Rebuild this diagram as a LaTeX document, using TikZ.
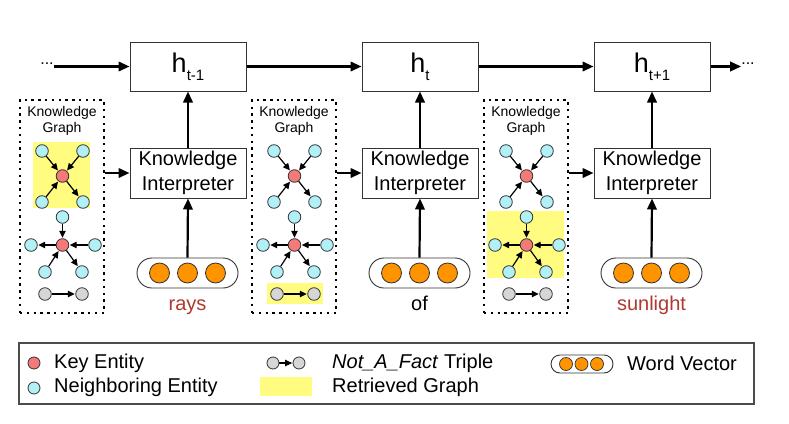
\documentclass[tikz,border=0pt]{standalone}
\usepackage{fontspec}
\setmainfont{Liberation Sans}
\usetikzlibrary{arrows.meta}
\definecolor{keyred}{HTML}{F47A7A}
\definecolor{nbrcyan}{HTML}{B2F0F8}
\definecolor{fakegray}{HTML}{D6D6D6}
\definecolor{wvorange}{HTML}{FF9300}
\definecolor{hlyellow}{HTML}{FFFC7F}
\definecolor{wordred}{HTML}{B0392F}
\definecolor{edge}{HTML}{333333}
\begin{document}
\begin{tikzpicture}[x=1pt,y=-1pt,
  ent/.style={circle,draw=edge,line width=0.8pt,minimum size=12.6pt,inner sep=0pt},
  keyent/.style={ent,fill=keyred},
  nbrent/.style={ent,fill=nbrcyan},
  fakeent/.style={ent,fill=fakegray},
  orb/.style={circle,draw=edge,line width=0.8pt,fill=wvorange,minimum size=20pt,inner sep=0pt},
  smallorb/.style={circle,draw=edge,line width=0.7pt,fill=wvorange,minimum size=13pt,inner sep=0pt},
  bigarrow/.style={line width=2.2pt,-{Triangle[length=11pt,width=9.5pt]}},
  smallarrow/.style={line width=1.2pt,shorten >=0.5pt,-{Triangle[length=7pt,width=6.5pt]}},
  hbox/.style={draw=edge,line width=1pt,fill=white,minimum width=116pt,minimum height=49pt,inner sep=0pt},
  kibox/.style={draw=edge,line width=1pt,fill=white,minimum width=116pt,minimum height=50pt,inner sep=0pt,align=center,font=\fontsize{20}{24.5}\selectfont},
  kgbox/.style={draw=black,line width=2.4pt,dash pattern=on 2.4pt off 4.4pt,minimum width=84pt,minimum height=213pt,inner sep=0pt},
  pill/.style={draw=edge,line width=0.9pt,rounded corners=15pt,minimum width=101pt,minimum height=30pt,inner sep=0pt},
  hl/.style={fill=hlyellow},
  legtext/.style={anchor=west,inner sep=0pt,font=\fontsize{20}{24}\selectfont},
]
\useasboundingbox[fill=white] (0,0) rectangle (789,423);

% retrieved-graph highlights
\fill[hl] (33,142) rectangle (90,208);
\fill[hl] (267,283) rectangle (323,304);
\fill[hl] (487,211) rectangle (564,278);

% hidden states
\node[hbox] (h1) at (188,66.5) {\fontsize{27}{30}\selectfont h\raisebox{-0.3em}{\fontsize{15}{15}\selectfont t-1}};
\node[hbox] (h2) at (420,66.5) {\fontsize{27}{30}\selectfont h\raisebox{-0.3em}{\fontsize{15}{15}\selectfont t}};
\node[hbox] (h3) at (652,66.5) {\fontsize{27}{30}\selectfont h\raisebox{-0.3em}{\fontsize{15}{15}\selectfont t+1}};
\node[inner sep=0pt,font=\fontsize{16}{16}\selectfont] (ld) at (47,64) {...};
\node[inner sep=0pt,font=\fontsize{16}{16}\selectfont] (rd) at (748,64) {...};
\draw[bigarrow] (ld.east |- h1.west) -- (h1.west);
\draw[bigarrow] (h1) -- (h2);
\draw[bigarrow] (h2) -- (h3);
\draw[bigarrow] (h3.east) -- (rd.west |- h3.east);

\foreach \i/\dx/\word/\wcol in {1/0/rays/wordred,2/232/of/black,3/464/sunlight/wordred}{
  \begin{scope}[xshift=\dx pt]
    % knowledge graph box
    \node[kgbox] (kg\i) at (62,206.5) {};
    \node[inner sep=0pt,align=center,font=\fontsize{14}{16}\selectfont] (kgl\i) at (62,121) {Knowledge\\Graph};
    % first graph
    \node[nbrent] (a\i tl) at (42,151) {};
    \node[nbrent] (a\i tr) at (83,151) {};
    \node[keyent] (a\i c) at (62.5,176) {};
    \node[nbrent] (a\i bl) at (42,202) {};
    \node[nbrent] (a\i br) at (83,202) {};
    \draw[smallarrow] (a\i tl) -- (a\i c);
    \draw[smallarrow] (a\i tr) -- (a\i c);
    \draw[smallarrow] (a\i c) -- (a\i br);
    \draw[smallarrow] (a\i bl) -- (a\i c);
    % second graph
    \node[nbrent] (b\i t) at (62.5,217) {};
    \node[keyent] (b\i c) at (62.5,245) {};
    \node[nbrent] (b\i l) at (31,245) {};
    \node[nbrent] (b\i r) at (95,245) {};
    \node[nbrent] (b\i bl) at (45,272) {};
    \node[nbrent] (b\i br) at (82,272) {};
    \draw[smallarrow] (b\i t) -- (b\i c);
    \draw[smallarrow] (b\i c) -- (b\i l);
    \draw[smallarrow] (b\i r) -- (b\i c);
    \draw[smallarrow] (b\i bl) -- (b\i c);
    \draw[smallarrow] (b\i c) -- (b\i br);
    % not-a-fact triple
    \node[fakeent] (f\i l) at (45,294) {};
    \node[fakeent] (f\i r) at (82,294) {};
    \draw[smallarrow] (f\i l) -- (f\i r);
    % interpreter
    \node[kibox] (ki\i) at (188,173) {Knowledge\\Interpreter};
    % word vector
    \node[pill] (wv\i) at (187.5,273) {};
    \node[orb] (o\i a) at (159.5,273) {};
    \node[orb] (o\i b) at (187.5,273) {};
    \node[orb] (o\i c) at (215.5,273) {};
    \node[inner sep=0pt,text=\wcol,font=\fontsize{20}{24}\selectfont] (w\i) at (187.5,306) {\strut\word};
    % arrows
    \draw[bigarrow] (kg\i.east |- ki\i.west) -- (ki\i.west);
    \draw[bigarrow] (wv\i.north) -- (ki\i.south);
    \draw[bigarrow] (ki\i.north) -- (h\i.south);
  \end{scope}
}

% legend
\node[draw=black!70,line width=1.2pt,minimum width=735pt,minimum height=61pt,inner sep=0pt] (leg) at (386.5,373.5) {};
\node[keyent,minimum size=12pt] (lk) at (34,363) {};
\node[legtext] (lkt) at (54,363) {Key Entity};
\node[nbrent,minimum size=12pt] (ln) at (34,388) {};
\node[legtext] (lnt) at (54,387) {Neighboring Entity};
\node[fakeent,minimum size=12pt] (lfa) at (273,363) {};
\node[fakeent,minimum size=12pt] (lfb) at (299,363) {};
\draw[smallarrow] (lfa) -- (lfb);
\node[legtext] (lft) at (332,363) {\textit{Not\_A\_Fact} Triple};
\fill[hl] (260,377) rectangle (312,396);
\node[legtext] (lrt) at (332,387) {Retrieved Graph};
\node[draw=edge,line width=0.9pt,rounded corners=9pt,minimum width=62pt,minimum height=18pt,inner sep=0pt] (lwv) at (582,364) {};
\node[smallorb] (lo1) at (566,364) {};
\node[smallorb] (lo2) at (581.5,364) {};
\node[smallorb] (lo3) at (597,364) {};
\node[legtext] (lwt) at (627,363) {Word Vector};
\end{tikzpicture}
\end{document}
